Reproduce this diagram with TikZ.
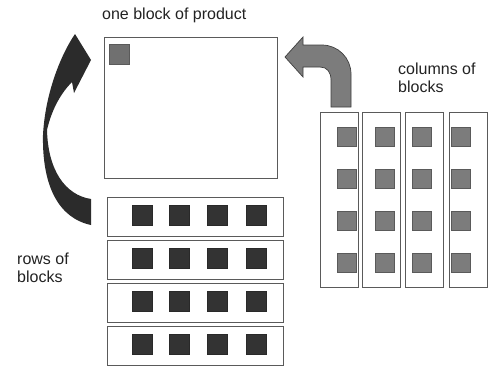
\documentclass[tikz,border=0pt]{standalone}
\usepackage{fontspec}
\setmainfont{Liberation Sans}
\definecolor{edgegray}{HTML}{5A5A5A}
\definecolor{darkblock}{HTML}{333333}
\definecolor{midblock}{HTML}{7C7C7C}
\definecolor{arrowdark}{HTML}{2B2B2B}
\definecolor{labeltext}{HTML}{222222}
\begin{document}
\begin{tikzpicture}[x=1pt,y=-1pt,
  panel/.style={draw=edgegray,line width=0.8pt,fill=white,inner sep=0pt,outer sep=0pt,anchor=north west},
  darksq/.style={draw=darkblock!80!black,line width=0.5pt,fill=darkblock,inner sep=0pt,outer sep=0pt,anchor=north west,minimum width=20pt,minimum height=20pt},
  graysq/.style={draw=edgegray,line width=0.6pt,fill=midblock,inner sep=0pt,outer sep=0pt,anchor=north west,minimum width=19pt,minimum height=19pt},
  label/.style={font=\fontsize{16}{17.5}\selectfont,text=labeltext,inner sep=0pt,align=left}]
\useasboundingbox (0,0) rectangle (489,367);

% product block
\node[panel,minimum width=173pt,minimum height=141pt] (prod) at (104,37) {};
\node[graysq,minimum width=20pt,minimum height=20pt,fill=midblock!90!black] (psq) at (109,44) {};

% four row panels, four dark blocks each
\foreach \r/\y in {1/197,2/240,3/283,4/326}{
  \node[panel,minimum width=176pt,minimum height=39pt] (row\r) at (107,\y) {};
  \foreach \c/\x in {1/132,2/169,3/207,4/246}
    \node[darksq] (rs\r\c) at (\x,\y+8) {};
}

% four column panels, four gray blocks each
\foreach \c/\x/\sx in {1/320/337,2/362/375,3/405/412,4/449/451}{
  \node[panel,minimum width=38pt,minimum height=175pt] (col\c) at (\x,112) {};
  \foreach \r/\y in {1/127,2/169,3/211,4/253}
    \node[graysq] (cs\c\r) at (\sx,\y) {};
}

% curved dark arrow from the rows up to the product
\fill[arrowdark] (91,225) -- (91,199)
  .. controls (65,195) and (48,170) .. (47,130)
  .. controls (52,108) and (62,92) .. (72,82)
  -- (74,93) -- (91,60) -- (75,34)
  .. controls (60,56) and (45,95) .. (43,135)
  .. controls (42,185) and (58,218) .. (91,225) -- cycle;

% bent gray arrow from the columns to the product
\filldraw[fill=midblock,draw=edgegray!70!black,line width=0.7pt]
  (331,107) -- (331,80)
  .. controls (331,72) and (327,67) .. (320,67)
  -- (303,67) -- (303,77) -- (285,57) -- (303,37) -- (303,45) -- (322,45)
  .. controls (338,45) and (351,58) .. (351,74)
  -- (351,107) -- cycle;

% labels (base anchor sits on the last line)
\node[label,anchor=base west] (tprod) at (102,19) {one block of product};
\node[label,anchor=base west] (tcol) at (398,92) {columns of\\blocks};
\node[label,anchor=base west] (trow) at (17,282) {rows of\\blocks};
\end{tikzpicture}
\end{document}
